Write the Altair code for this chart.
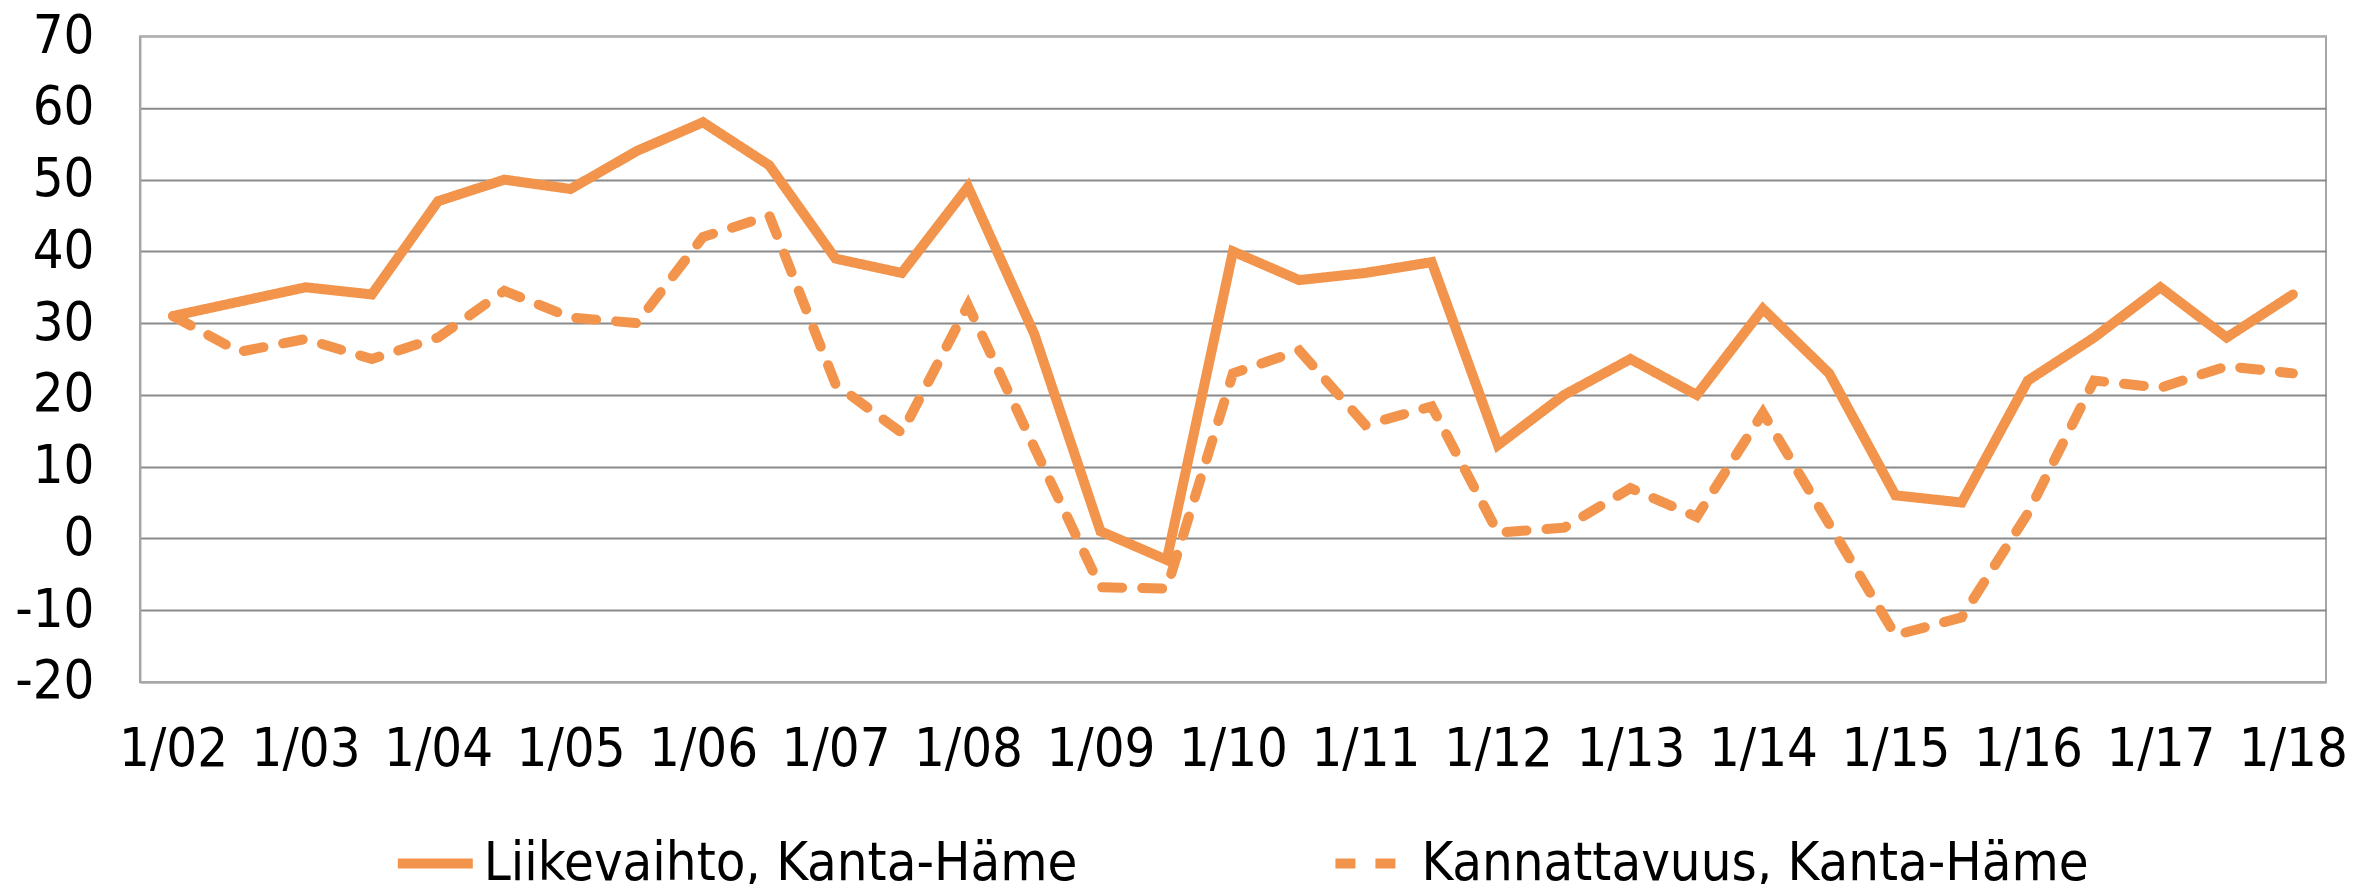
import altair as alt
import pandas as pd

periods = ["1/02", "7/02", "1/03", "7/03", "1/04", "7/04", "1/05", "7/05", "1/06", "7/06",
           "1/07", "7/07", "1/08", "7/08", "1/09", "7/09", "1/10", "7/10", "1/11", "7/11",
           "1/12", "7/12", "1/13", "7/13", "1/14", "7/14", "1/15", "7/15", "1/16", "7/16",
           "1/17", "7/17", "1/18"]
tick_labels = ["1/02", "1/03", "1/04", "1/05", "1/06", "1/07", "1/08", "1/09", "1/10",
               "1/11", "1/12", "1/13", "1/14", "1/15", "1/16", "1/17", "1/18"]

liikevaihto = [31, 33, 35, 34, 47, 50, 48.7, 54, 58, 52,
               39, 37, 49, 28.5, 1, -3, 40, 36, 37, 38.5,
               13, 20, 25, 20, 32, 23, 6, 5, 22, 28,
               35, 28, 34]
kannattavuus = [31, 26, 27.8, 25, 28, 34.5, 30.8, 30, 42, 45,
                21.5, 14.7, 32.5, 12.7, -6.8, -7, 23, 26.2, 15.8, 18.4,
                0.8, 1.5, 7, 3, 17.5, 2, -13.5, -11, 3.5, 22,
                21, 24, 23]
series_names = ["Liikevaihto, Kanta-Häme", "Kannattavuus, Kanta-Häme"]
y_ticks = [-20, -10, 0, 10, 20, 30, 40, 50, 60, 70]

rows = []
for p, v in zip(periods, liikevaihto):
    rows.append({"period": p, "value": v, "series": series_names[0]})
for p, v in zip(periods, kannattavuus):
    rows.append({"period": p, "value": v, "series": series_names[1]})
df = pd.DataFrame(rows)

ORANGE = "#F2944B"
FONT = "DejaVu Sans Condensed"
FS = 54

legend_props = dict(title=None, orient="none", legendX=253, legendY=785,
                    direction="horizontal", symbolType="stroke", symbolSize=5625,
                    symbolStrokeWidth=10, symbolOpacity=1, labelFontSize=FS,
                    labelFont=FONT, labelColor="#000000", labelLimit=1000,
                    columnPadding=238, labelOffset=6)

chart = alt.Chart(df).mark_line(strokeWidth=10, strokeCap="round").encode(
    x=alt.X("period:O", sort=periods,
            scale=alt.Scale(type="point", padding=0.5),
            axis=alt.Axis(values=tick_labels, labelAngle=0, title=None, ticks=False,
                          domainColor="#A6A6A6", domainWidth=2, labelFontSize=FS,
                          labelPadding=41, labelColor="#000000", labelFont=FONT,
                          grid=False)),
    y=alt.Y("value:Q",
            scale=alt.Scale(domain=[-20, 70], nice=False, zero=False),
            axis=alt.Axis(values=y_ticks, title=None, ticks=False, domainColor="#A6A6A6",
                          domainWidth=2, labelFontSize=FS, labelPadding=46,
                          labelColor="#000000", labelFont=FONT,
                          labelExpr="datum.value < 0 ? '-' + abs(datum.value) : '' + datum.value",
                          gridColor=alt.condition("datum.value == 70 || datum.value == -20",
                                                  alt.value("#B0B0B0"), alt.value("#8A8A8A")),
                          gridWidth=2)),
    color=alt.Color("series:N", sort=series_names,
                    scale=alt.Scale(domain=series_names, range=[ORANGE, ORANGE]),
                    legend=alt.Legend(**legend_props)),
    strokeDash=alt.StrokeDash("series:N", sort=series_names,
                              scale=alt.Scale(domain=series_names, range=[[1, 0], [20, 20]]),
                              legend=alt.Legend(**legend_props)),
).properties(
    width=2187, height=646,
    autosize=alt.AutoSizeParams(type="none"),
    padding={"left": 132, "top": 28, "right": 20, "bottom": 202},
).configure_view(
    stroke="#A6A6A6", strokeWidth=2
)

chart.save("out.html", embed_options={"renderer": "svg", "actions": False})
